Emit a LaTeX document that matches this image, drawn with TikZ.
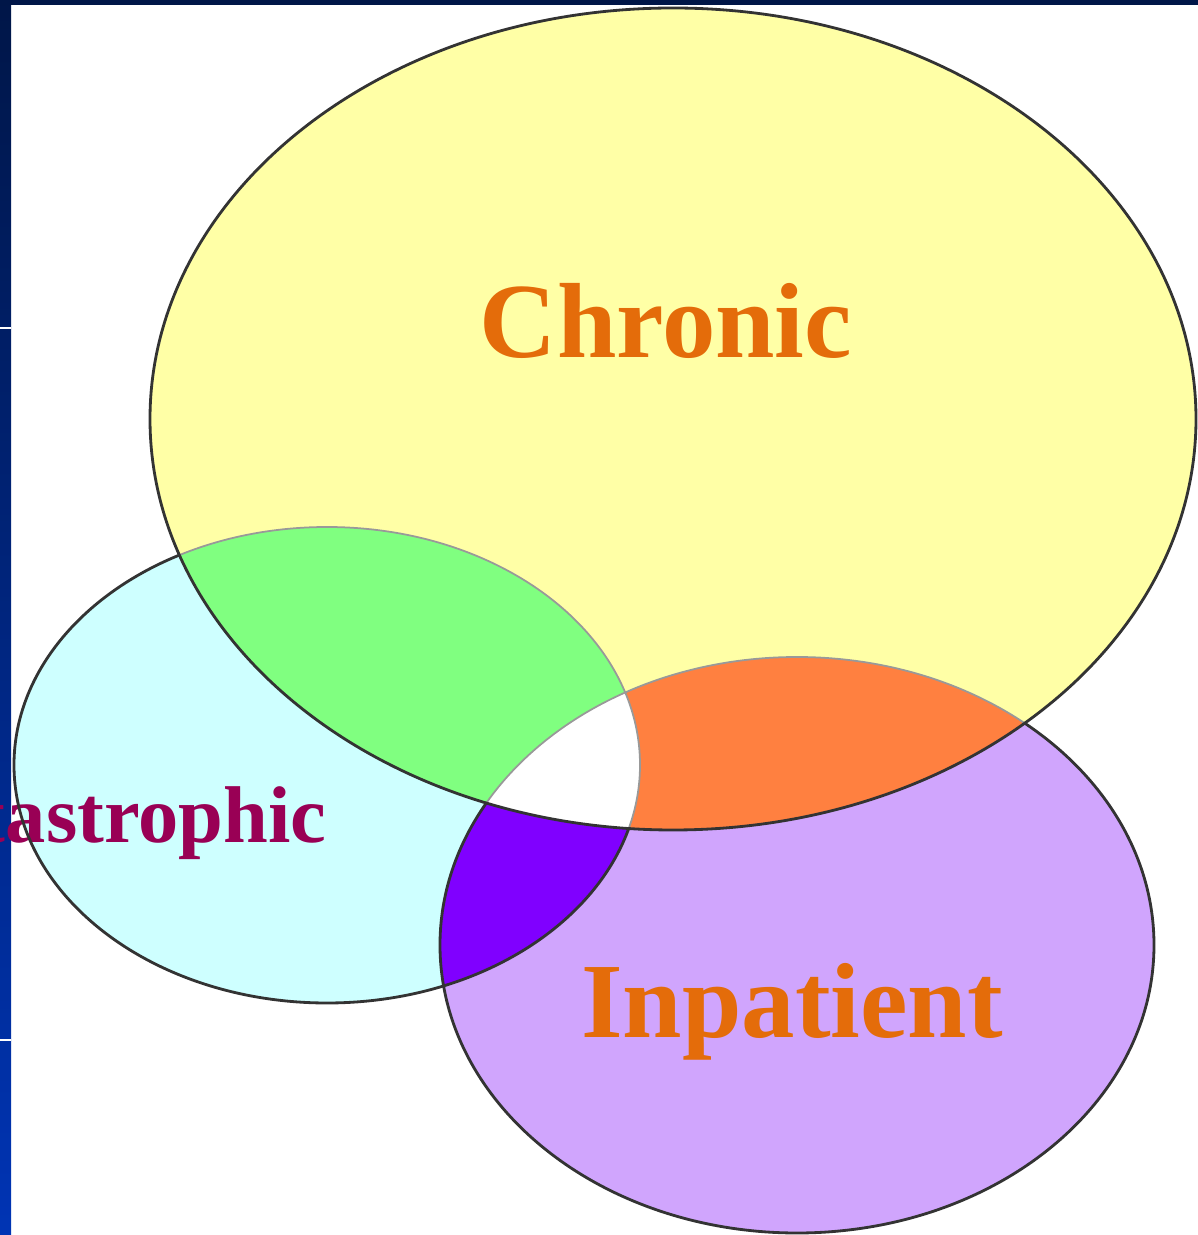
\documentclass[tikz,border=0pt]{standalone}
\usepackage{fontspec}
\setmainfont{Liberation Serif}
\usepackage{xcolor}

\definecolor{slidenavy}{RGB}{0,22,72}
\definecolor{slideblue}{RGB}{0,52,180}
\definecolor{chronicfill}{RGB}{255,255,166}
\definecolor{catfill}{RGB}{206,255,255}
\definecolor{inpfill}{RGB}{208,165,253}
\definecolor{greenfill}{RGB}{128,255,128}
\definecolor{orangefill}{RGB}{255,128,64}
\definecolor{violetfill}{RGB}{128,0,255}
\definecolor{labelorange}{RGB}{228,108,10}
\definecolor{labelplum}{RGB}{153,0,85}

\tikzset{
  rimline/.style={draw=black!80, line width=0.8pt},
  innerline/.style={draw=black!40, line width=0.5pt},
  biglabel/.style={font=\bfseries\fontsize{30.4}{36}\selectfont, text=labelorange, inner sep=0pt, anchor=base},
  smalllabel/.style={font=\bfseries\fontsize{22.9}{27}\selectfont, text=labelplum, inner sep=0pt, anchor=base east}
}

\def\chronicpath{(6.73,8.16) ellipse [x radius=5.23, y radius=4.11]}
\def\catpath{(3.27,4.70) ellipse [x radius=3.13, y radius=2.38]}
\def\inppath{(7.97,2.90) ellipse [x radius=3.57, y radius=2.88]}

\begin{document}
\begin{tikzpicture}
  \useasboundingbox (0,0) rectangle (11.98,12.35);

  % slide edge
  \shade[top color=slidenavy, bottom color=slideblue] (0,0) rectangle (0.11,12.35);
  \fill[slidenavy] (0,12.30) rectangle (11.98,12.35);
  \draw[white, line width=0.8pt] (0,9.07) -- (0.11,9.07);
  \draw[white, line width=0.8pt] (0,1.95) -- (0.11,1.95);

  % the three sets
  \fill[chronicfill] \chronicpath;
  \fill[catfill] \catpath;
  \fill[inpfill] \inppath;

  % overlaps
  \begin{scope}
    \clip \chronicpath;
    \fill[greenfill] \catpath;
    \fill[orangefill] \inppath;
  \end{scope}
  \begin{scope}
    \clip \catpath;
    \fill[violetfill] \inppath;
  \end{scope}
  \begin{scope}
    \clip \chronicpath;
    \clip \catpath;
    \fill[white] \inppath;
  \end{scope}

  \node[smalllabel] (catastrophic) at (3.27,3.92) {Catastrophic};

  % outlines
  \begin{scope}
    \clip \chronicpath;
    \path[innerline] \catpath;
    \path[innerline] \inppath;
  \end{scope}
  \begin{scope}[even odd rule]
    \clip (-1,-1) rectangle (13,13) \chronicpath;
    \path[rimline] \catpath;
    \path[rimline] \inppath;
  \end{scope}
  \path[rimline] \chronicpath;

  \node[biglabel] (chronic) at (6.66,8.77) {Chronic};
  \node[biglabel] (inpatient) at (7.92,1.97) {Inpatient};
\end{tikzpicture}
\end{document}
